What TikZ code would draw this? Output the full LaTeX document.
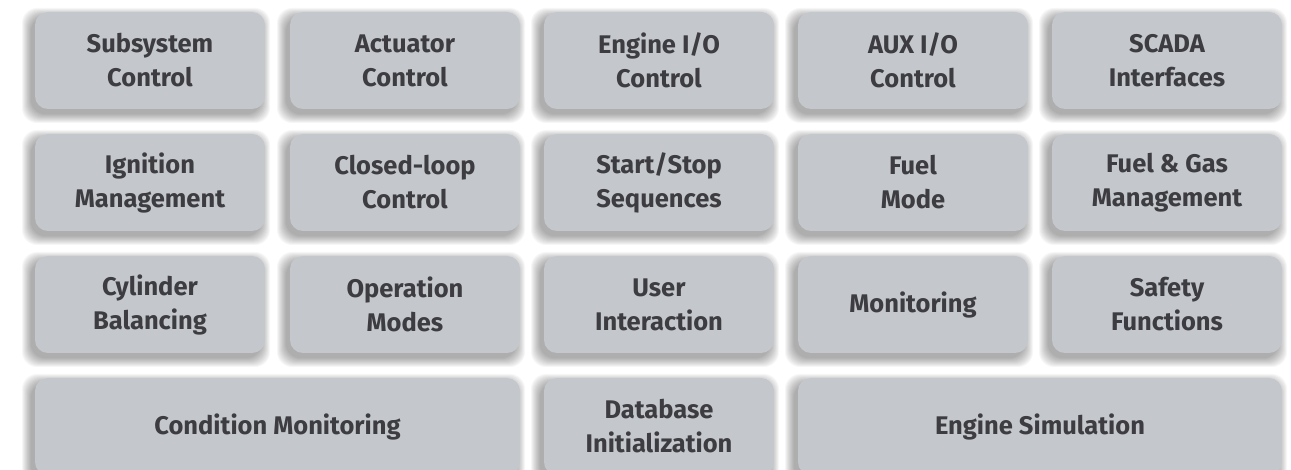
\documentclass[tikz,border=0pt]{standalone}
\usepackage{fontspec}
\setmainfont{Fira Sans}
\usetikzlibrary{backgrounds,calc}
\definecolor{boxfill}{HTML}{C4C8CC}
\definecolor{boxtext}{HTML}{3C3C41}
\begin{document}
\begin{tikzpicture}[x=1pt,y=-1pt,
  cell/.style={rounded corners=13pt, fill=boxfill, text=boxtext,
    font=\bfseries\fontsize{25.5}{34}\selectfont, align=center, inner sep=0pt,
    minimum width=230pt, minimum height=97pt},
  widecell/.style={cell, minimum width=485pt},
]
\useasboundingbox (0,0) rectangle (1291,470);
% row 1
\node[cell] (sub) at (150,60.5) {Subsystem\\Control};
\node[cell] (act) at (405,60.5) {Actuator\\Control};
\node[cell] (eio) at (659,60.5) {Engine I/O\\Control};
\node[cell] (aux) at (913,60.5) {AUX I/O\\Control};
\node[cell] (sca) at (1167,60.5) {SCADA\\Interfaces};
% row 2
\node[cell] (ign) at (150,182.5) {Ignition\\Management};
\node[cell] (clc) at (405,182.5) {Closed-loop\\Control};
\node[cell] (sss) at (659,182.5) {Start/Stop\\Sequences};
\node[cell] (fmo) at (913,182.5) {Fuel\\Mode};
\node[cell] (fgm) at (1167,182.5) {Fuel \& Gas\\Management};
% row 3
\node[cell] (cyl) at (150,304.5) {Cylinder\\Balancing};
\node[cell] (opm) at (405,304.5) {Operation\\Modes};
\node[cell] (usi) at (659,304.5) {User\\Interaction};
\node[cell] (mon) at (913,304.5) {Monitoring};
\node[cell] (saf) at (1167,304.5) {Safety\\Functions};
% row 4
\node[widecell] (com) at (277.5,426.5) {Condition Monitoring};
\node[cell] (dbi) at (659,426.5) {Database\\Initialization};
\node[widecell, minimum width=484pt] (esi) at (1040,426.5) {Engine Simulation};
% shadows
\begin{scope}[on background layer]
\foreach \n in {sub,act,eio,aux,sca,ign,clc,sss,fmo,fgm,cyl,opm,usi,mon,saf,com,dbi,esi}{
  \foreach \i in {0,...,11}{
    \fill[black, opacity=0.03, rounded corners=15pt]
      ($(\n.north west)+(-4-0.8*\i,5-0.8*\i)$) rectangle ($(\n.south east)+(-4+0.8*\i,5+0.8*\i)$);
  }
}
\end{scope}
\end{tikzpicture}
\end{document}
